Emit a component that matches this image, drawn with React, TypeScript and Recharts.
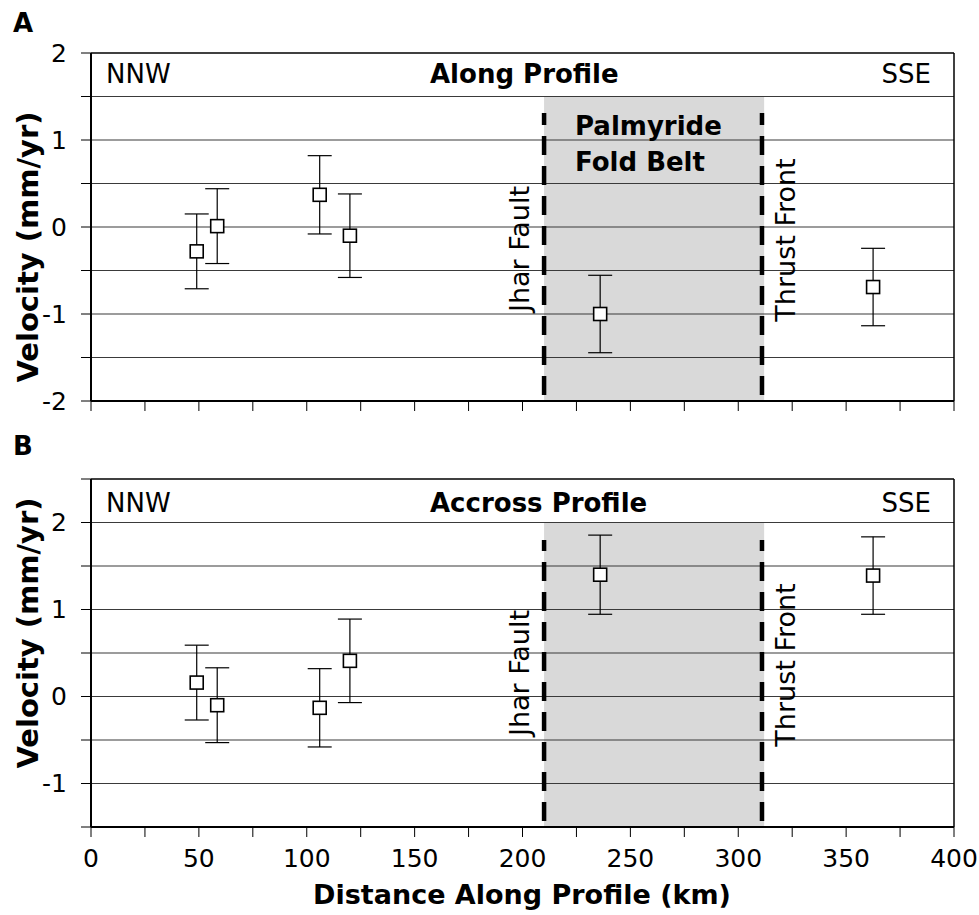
import {
  ErrorBar,
  ReferenceArea,
  ReferenceLine,
  Scatter,
  ScatterChart,
  XAxis,
  YAxis,
} from 'recharts'

// GPS sites projected on the profile (km) and their velocity components (mm/yr)
const distanceKm = [49, 58.5, 106, 120, 236, 362.5]
const alongVelocity = [-0.28, 0.01, 0.37, -0.1, -1.0, -0.69]
const alongError = [0.43, 0.43, 0.45, 0.48, 0.445, 0.445]
const acrossVelocity = [0.16, -0.1, -0.13, 0.41, 1.4, 1.39]
const acrossError = [0.43, 0.43, 0.45, 0.48, 0.455, 0.445]

const distanceTicks = [0, 25, 50, 75, 100, 125, 150, 175, 200, 225, 250, 275, 300, 325, 350, 375, 400]
const alongTicks = [-2, -1.5, -1, -0.5, 0, 0.5, 1, 1.5, 2]
const acrossTicks = [-1.5, -1, -0.5, 0, 0.5, 1, 1.5, 2, 2.5]

// fold belt extent (km) and the two bounding structures
const foldBelt = [210, 312]
const jharFaultKm = 210
const thrustFrontKm = 311

const FONT = '"DejaVu Sans", sans-serif'

type Point = { x: number; y: number; err: number }

function toPoints(values: number[], errors: number[]): Point[] {
  return distanceKm.map((x, i) => ({ x, y: values[i], err: errors[i] }))
}

function Square(props: any) {
  const { cx, cy } = props
  if (cx == null || cy == null) return <g />
  return (
    <rect x={cx - 6.5} y={cy - 6.5} width={13} height={13} fill="#fff" stroke="#000" strokeWidth={1.6} />
  )
}

type PanelProps = {
  data: Point[]
  ticks: number[]
  height: number
  marginTop: number
  xAxisHeight: number
  shadeTop: number
  faultTop: number
  showXLabels: boolean
}

function Panel({ data, ticks, height, marginTop, xAxisHeight, shadeTop, faultTop, showXLabels }: PanelProps) {
  const yMin = ticks[0]
  const yMax = ticks[ticks.length - 1]
  const gridValues = ticks.slice(1, -1)
  const dash = { stroke: '#000', strokeWidth: 4.5, strokeDasharray: '19 11', strokeDashoffset: 24 }

  return (
    <ScatterChart width={979} height={height} margin={{ top: marginTop, right: 25, bottom: 0, left: 0 }}>
      <XAxis
        type="number"
        dataKey="x"
        domain={[0, 400]}
        ticks={distanceTicks}
        interval={0}
        height={xAxisHeight}
        tickSize={10}
        tickMargin={12}
        axisLine={{ stroke: '#000', strokeWidth: 2 }}
        tickLine={{ stroke: '#000', strokeWidth: 1 }}
        tick={{ fontSize: 25, fontFamily: FONT, fill: '#000' }}
        tickFormatter={(v: number) => (showXLabels && v % 50 === 0 ? String(v) : '')}
      />
      <YAxis
        type="number"
        dataKey="y"
        domain={[yMin, yMax]}
        ticks={ticks}
        interval={0}
        width={91}
        tickSize={10}
        tickMargin={14}
        axisLine={{ stroke: '#000', strokeWidth: 2 }}
        tickLine={{ stroke: '#000', strokeWidth: 1 }}
        tick={{ fontSize: 25, fontFamily: FONT, fill: '#000' }}
        tickFormatter={(v: number) => (Number.isInteger(v) ? String(v) : '')}
      />
      <ReferenceArea
        x1={foldBelt[0]}
        x2={foldBelt[1]}
        y1={yMin}
        y2={shadeTop}
        fill="#d9d9d9"
        fillOpacity={1}
        stroke="none"
      />
      {gridValues.map((v) => (
        <ReferenceLine key={v} y={v} stroke="#3a3a3a" strokeWidth={1.2} />
      ))}
      <ReferenceLine y={yMax} stroke="#000" strokeWidth={1.5} />
      <ReferenceLine x={400} stroke="#000" strokeWidth={1.5} />
      <ReferenceLine
        segment={[
          { x: jharFaultKm, y: yMin },
          { x: jharFaultKm, y: faultTop },
        ]}
        {...dash}
      />
      <ReferenceLine
        segment={[
          { x: thrustFrontKm, y: yMin },
          { x: thrustFrontKm, y: faultTop },
        ]}
        {...dash}
      />
      <Scatter data={data} shape={() => <g />} isAnimationActive={false}>
        <ErrorBar dataKey="err" direction="y" width={12} stroke="#000" strokeWidth={1.2} />
      </Scatter>
      <Scatter data={data} shape={Square} isAnimationActive={false} />
    </ScatterChart>
  )
}

export default function App() {
  const along = toPoints(alongVelocity, alongError)
  const across = toPoints(acrossVelocity, acrossError)
  const bold = { fontFamily: FONT, fontWeight: 700, fill: '#000' }
  const plain = { fontFamily: FONT, fill: '#000' }

  return (
    <div style={{ position: 'absolute', left: 0, top: 0, width: 979, height: 915, background: '#fff' }}>
      <div style={{ position: 'absolute', left: 0, top: 0 }}>
        <Panel
          data={along}
          ticks={alongTicks}
          height={430}
          marginTop={53}
          xAxisHeight={29}
          shadeTop={1.5}
          faultTop={1.31}
          showXLabels={false}
        />
      </div>
      <div style={{ position: 'absolute', left: 0, top: 430 }}>
        <Panel
          data={across}
          ticks={acrossTicks}
          height={485}
          marginTop={49}
          xAxisHeight={88}
          shadeTop={2}
          faultTop={1.8}
          showXLabels
        />
      </div>
      <svg
        width={979}
        height={915}
        style={{ position: 'absolute', left: 0, top: 0, pointerEvents: 'none' }}
      >
        <text x={13} y={32} fontSize={26} {...bold}>A</text>
        <text x={13} y={455} fontSize={26} {...bold}>B</text>

        <text transform="translate(38,247) rotate(-90)" textAnchor="middle" fontSize={29} {...bold}>
          Velocity (mm/yr)
        </text>
        <text transform="translate(38,633) rotate(-90)" textAnchor="middle" fontSize={29} {...bold}>
          Velocity (mm/yr)
        </text>
        <text x={522} y={904} textAnchor="middle" fontSize={27} {...bold}>
          Distance Along Profile (km)
        </text>

        <text x={106} y={83} fontSize={26} {...plain}>NNW</text>
        <text x={931} y={83} textAnchor="end" fontSize={26} {...plain}>SSE</text>
        <text x={430} y={83} fontSize={26} {...bold}>Along Profile</text>
        <text x={106} y={512} fontSize={26} {...plain}>NNW</text>
        <text x={931} y={512} textAnchor="end" fontSize={26} {...plain}>SSE</text>
        <text x={430} y={512} fontSize={26} {...bold}>Accross Profile</text>

        <text x={575} y={135} fontSize={26} {...bold}>Palmyride</text>
        <text x={575} y={171} fontSize={26} {...bold}>Fold Belt</text>

        <text transform="translate(529,249) rotate(-90)" textAnchor="middle" fontSize={27} {...plain}>
          Jhar Fault
        </text>
        <text transform="translate(795,240) rotate(-90)" textAnchor="middle" fontSize={27} {...plain}>
          Thrust Front
        </text>
        <text transform="translate(529,673) rotate(-90)" textAnchor="middle" fontSize={27} {...plain}>
          Jhar Fault
        </text>
        <text transform="translate(795,665) rotate(-90)" textAnchor="middle" fontSize={27} {...plain}>
          Thrust Front
        </text>
      </svg>
    </div>
  )
}
